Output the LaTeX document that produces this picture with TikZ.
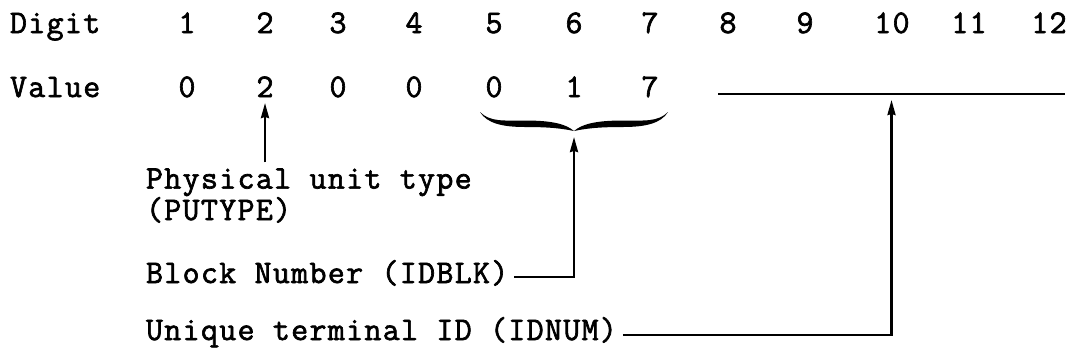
\documentclass[tikz,border=0pt]{standalone}
\usepackage{fontspec}
\setmainfont{Latin Modern Mono}[FakeBold=2,LetterSpace=4]
\usetikzlibrary{arrows.meta,calc}
\begin{document}
\begin{tikzpicture}[x=1pt,y=-1pt,
  txt/.style={inner sep=0pt,outer sep=0pt,font=\fontsize{33}{25}\selectfont},
  arr/.style={line width=2.2pt,-{Stealth[length=15pt,width=8pt,inset=1pt]}},
  ln/.style={line width=2.2pt}]
\useasboundingbox (0,0) rectangle (1076,360);
% row labels
\node[txt,anchor=base west] (dig) at (10,33) {Digit};
\node[txt,anchor=base west] (val) at (10,97) {Value};
% digit numbers
\foreach \n/\x in {1/187,2/265,3/338,4/414,5/494,6/574,7/650,8/728,9/805,10/892,11/969,12/1049}
  \node[txt,anchor=base] (d\n) at (\x,33) {\n};
% values
\foreach \n/\v/\x in {1/0/187,2/2/265,3/0/338,4/0/414,5/0/494,6/1/574,7/7/650}
  \node[txt,anchor=base] (v\n) at (\x,97) {\v};
% blank line for digits 8-12
\coordinate (ls) at (718,94);
\coordinate (le) at (1065,94);
\draw[ln] (ls) -- (le);
% brace under 5-7
\coordinate (bt) at (574,131);
\fill (480,112) .. controls (490,122) and (503,120.5) .. (525,120.5)
  .. controls (552,120.5) and (566,124) .. (bt)
  .. controls (562,128.5) and (550,127) .. (525,127)
  .. controls (503,127) and (487,123.5) .. (480,112) -- cycle;
\fill (668,112) .. controls (658,122) and (645,120.5) .. (623,120.5)
  .. controls (596,120.5) and (582,124) .. (bt)
  .. controls (586,128.5) and (598,127) .. (623,127)
  .. controls (645,127) and (661,123.5) .. (668,112) -- cycle;
% labels
\node[txt,anchor=base west,align=left] (phys) at (146,220) {Physical unit type\\(PUTYPE)};
\node[txt,anchor=base west] (blk) at (146,283) {Block Number (IDBLK)};
\node[txt,anchor=base west] (uni) at (146,340) {Unique terminal ID (IDNUM)};
% connectors
\draw[arr] (phys.north -| v2.south) ++(0,-6) -- ([yshift=-6pt]v2.south);
\draw[arr] ([shift={(6pt,6pt)}]blk.base east) -| ([yshift=-6pt]bt);
\draw[arr] ([shift={(6pt,5pt)}]uni.base east) -| ($($(ls)!0.5!(le)$)+(0,6)$);
\end{tikzpicture}
\end{document}
